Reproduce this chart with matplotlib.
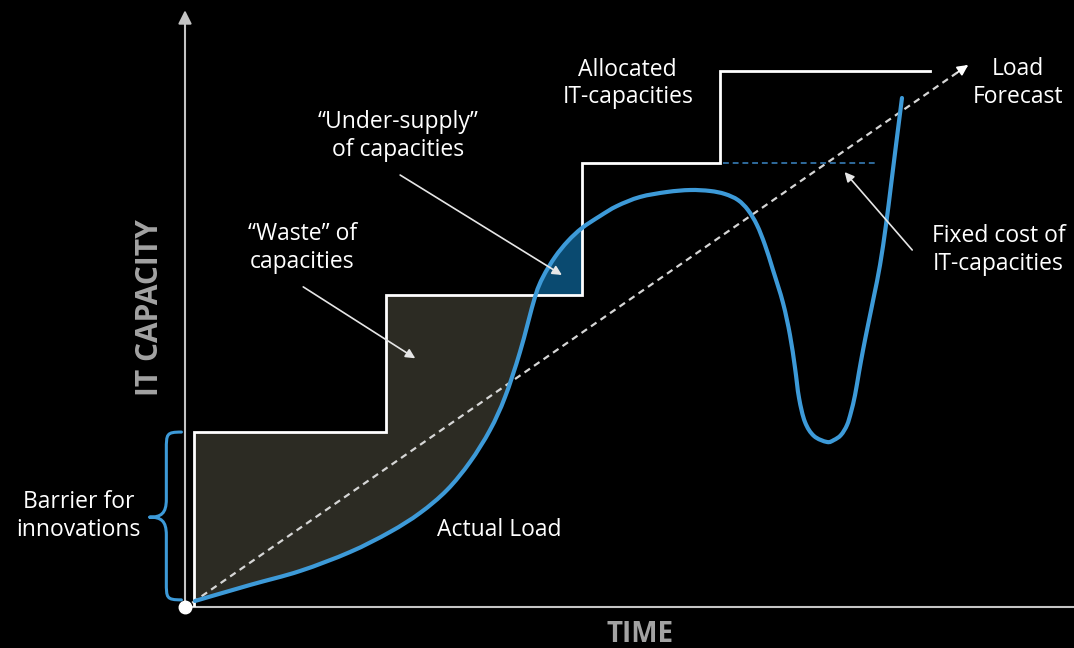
import numpy as np
import matplotlib.pyplot as plt
from matplotlib.path import Path
from matplotlib.patches import PathPatch

plt.rcParams['font.family'] = ['Open Sans', 'DejaVu Sans']

# Allocated IT-capacities (step function): edges in time, capacity levels
step_t = [1.0, 22.6, 44.7, 60.2, 83.8]
step_c = [29.4, 52.4, 74.6, 90.1]

# Load forecast (straight dashed line)
forecast_t = [0.8, 88.1]
forecast_c = [0.7, 91.1]

# Actual load
load_t = [1.12, 7.31, 12.94, 18.56, 23.06, 26.43, 29.47, 32.06, 34.31, 36.00,
          37.68, 39.37, 40.27, 41.62, 43.08, 44.66, 46.68, 48.59, 51.18, 54.22,
          56.81, 59.06, 60.74, 62.20, 63.33, 64.34, 65.24, 66.14, 67.27, 68.05,
          68.62, 69.07, 69.74, 70.75, 72.22, 73.00, 73.79,
          74.47, 74.92, 75.37, 75.82, 76.27, 76.83, 77.50, 78.18, 78.85, 79.42,
          79.98, 80.65]
load_c = [1.01, 3.70, 6.05, 9.24, 12.61, 15.80, 19.66, 24.37, 29.75, 35.29,
          42.86, 52.10, 55.46, 58.82, 61.51, 63.70, 65.71, 67.39, 68.91, 69.75,
          70.08, 69.92, 69.41, 68.40, 66.72, 64.20, 60.84, 56.64, 51.09, 45.71,
          40.17, 35.13, 31.09, 28.74, 27.73, 28.07, 28.91,
          30.59, 32.77, 35.63, 39.50, 43.19, 47.39, 52.27, 57.48, 64.20, 70.92,
          77.65, 85.55]

# Fixed cost marker line
fixed_t = [60.5, 77.6]
fixed_c = 74.6

WHITE = '#ffffff'
BLUE = '#3d9ad8'
AXIS = '#c4c4c4'
GRAY_LABEL = '#a3a3a3'


def smooth_path(xs, ys):
    # Catmull-Rom through the points, drawn as cubic Bezier segments
    p = np.column_stack([xs, ys])
    p = np.vstack([p[0], p, p[-1]])
    verts = [tuple(p[1])]
    codes = [Path.MOVETO]
    for i in range(1, len(p) - 2):
        c1 = p[i] + (p[i + 1] - p[i - 1]) / 6
        c2 = p[i + 1] - (p[i + 2] - p[i]) / 6
        verts += [tuple(c1), tuple(c2), tuple(p[i + 1])]
        codes += [Path.CURVE4] * 3
    return Path(verts, codes)


fig = plt.figure(figsize=(10.74, 6.48), dpi=100, facecolor='black')
ax = fig.add_axes([0, 0, 1, 1])
ax.set_facecolor('black')
ax.set_xlim(-185 / 8.89, 889 / 8.89)
ax.set_ylim(-41 / 5.95, 607 / 5.95)
ax.axis('off')

load_t = np.array(load_t)
load_c = np.array(load_c)

# "Waste" area: between allocated steps and actual load until load reaches step 2
cross_c = step_c[1]
m = (load_c <= cross_c) & (load_t < step_t[2])
waste_x = [step_t[0], step_t[0], step_t[1], step_t[1], 39.45] + list(load_t[m][::-1])
waste_y = [load_c[0], step_c[0], step_c[0], step_c[1], cross_c] + list(load_c[m][::-1])
ax.fill(waste_x, waste_y, color='#2c2b23', zorder=1, lw=0)

# "Under-supply" area: load above step 2 until the next step
m2 = (load_c >= cross_c) & (load_t <= step_t[2])
under_x = [39.45] + list(load_t[m2]) + [step_t[2]]
under_y = [cross_c] + list(load_c[m2]) + [cross_c]
ax.fill(under_x, under_y, color='#0a4a70', zorder=1, lw=0)

# allocated capacity step line
sx = np.repeat(step_t, 2)[:-1]
sy = np.concatenate([[0.3], np.repeat(step_c, 2)])
ax.plot(sx, sy, color=WHITE, lw=2, zorder=3, solid_joinstyle='miter')

# forecast dashed line with arrowhead
ax.plot(forecast_t, forecast_c, color='#d6d6d6', lw=1.6, ls=(0, (3, 2.2)), zorder=2)
ax.annotate('', xy=(forecast_t[1], forecast_c[1]),
            xytext=(forecast_t[1] - 1.2, forecast_c[1] - 1.24),
            arrowprops=dict(arrowstyle='-|>', color=WHITE, lw=1.2,
                            mutation_scale=16, shrinkA=0, shrinkB=0), zorder=4)

# fixed cost dashed line
ax.plot(fixed_t, [fixed_c, fixed_c], color='#2f6a9c', lw=1.4, ls=(0, (3, 2)), zorder=2)

# actual load curve
ax.add_patch(PathPatch(smooth_path(load_t, load_c), facecolor='none',
                       edgecolor=BLUE, lw=3, capstyle='round', zorder=4))

# axes
ax.plot([0, 100], [0, 0], color=AXIS, lw=1.5, zorder=2)
ax.annotate('', xy=(0, 100.3), xytext=(0, 0),
            arrowprops=dict(arrowstyle='-|>', color=AXIS, lw=1.5,
                            mutation_scale=20, shrinkA=0, shrinkB=0,
                            facecolor=WHITE), zorder=2)
ax.plot([0], [0], 'o', color=WHITE, markersize=9, zorder=5)

ax.text(-3.9, 50.4, 'IT CAPACITY', rotation=90, color=GRAY_LABEL, fontsize=21.5,
        fontweight='bold', ha='center', va='center')
ax.text(51.2, -4.6, 'TIME', color=GRAY_LABEL, fontsize=20, fontweight='bold',
        ha='center', va='center')

# brace for "Barrier for innovations"
xe, xb, xt = -0.4, -2.1, -4.0
top, bot, mid = 29.4, 1.2, 15.1
r = 3.0
verts = [(xe, top), (xb, top), (xb, top - 0.3), (xb, top - r),
         (xb, mid + r), (xb, mid + 0.6), (xb - 0.6, mid), (xt, mid),
         (xb - 0.6, mid), (xb, mid - 0.6), (xb, mid - r),
         (xb, bot + r), (xb, bot + 0.3), (xb, bot), (xe, bot)]
codes = [Path.MOVETO, Path.CURVE4, Path.CURVE4, Path.CURVE4,
         Path.LINETO, Path.CURVE4, Path.CURVE4, Path.CURVE4,
         Path.CURVE4, Path.CURVE4, Path.CURVE4,
         Path.LINETO, Path.CURVE4, Path.CURVE4, Path.CURVE4]
ax.add_patch(PathPatch(Path(verts, codes), facecolor='none', edgecolor=BLUE,
                       lw=2.2, capstyle='round', joinstyle='round', zorder=4))

# texts
fs = 16.5
txt = dict(color=WHITE, fontsize=fs, ha='center', va='center', linespacing=1.2)
ax.text(-12.0, 15.3, 'Barrier for\ninnovations', **txt)
ax.text(35.4, 12.9, 'Actual Load', **txt)
ax.text(13.2, 60.3, '\u201cWaste\u201d of\ncapacities', **txt)
ax.text(24.0, 79.2, '\u201cUnder-supply\u201d\nof capacities', **txt)
ax.text(49.8, 88.0, 'Allocated\nIT-capacities', **txt)
ax.text(93.7, 88.1, 'Load\nForecast', **txt)
ax.text(91.5, 60.0, 'Fixed cost of\nIT-capacities', **txt)

# annotation arrows
arrow = dict(arrowstyle='-|>', color='#e6e6e6', lw=1.2, mutation_scale=14,
             shrinkA=0, shrinkB=0)
ax.annotate('', xy=(25.9, 41.8), xytext=(13.3, 53.8), arrowprops=arrow, zorder=5)
ax.annotate('', xy=(42.4, 55.8), xytext=(24.2, 72.6), arrowprops=arrow, zorder=5)
ax.annotate('', xy=(74.2, 73.1), xytext=(81.8, 60.0), arrowprops=arrow, zorder=5)

fig.savefig('out.png', dpi=100, facecolor='black')
